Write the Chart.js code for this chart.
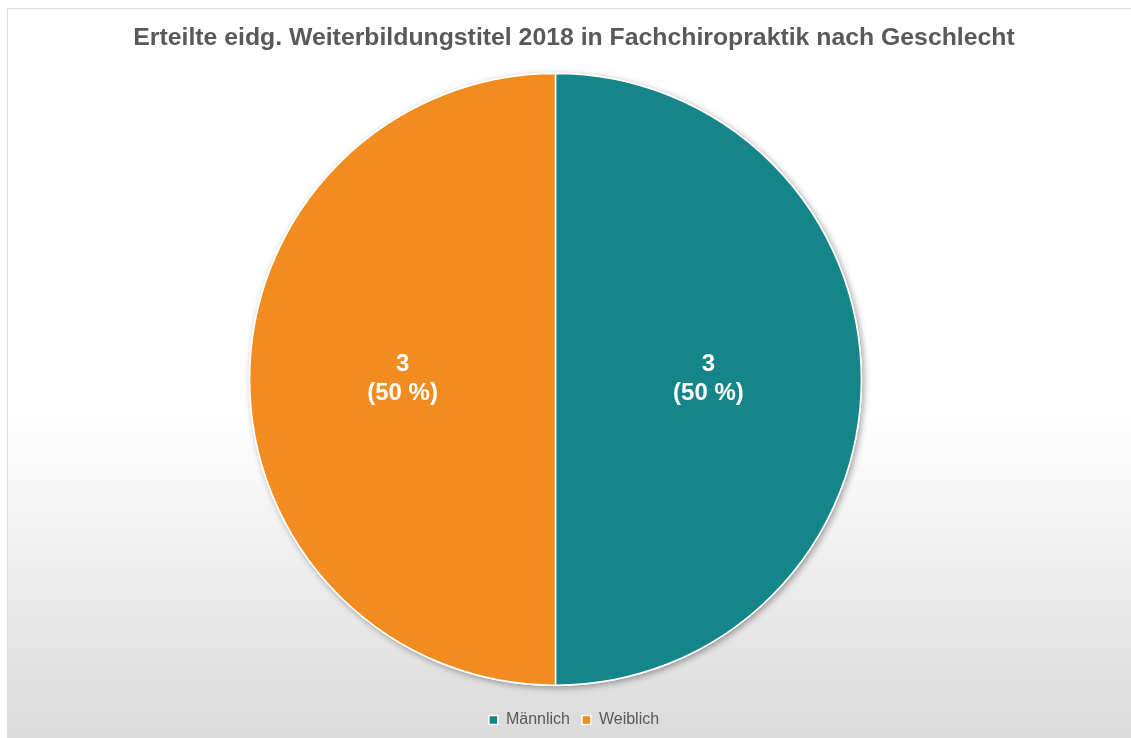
<!DOCTYPE html>
<html>
<head>
<meta charset="utf-8">
<script src="https://cdn.jsdelivr.net/npm/chart.js@4"></script>
<style>
  html, body { margin: 0; padding: 0; background: #fff; overflow: hidden; }
  #frame {
    position: absolute; left: 7px; top: 8px; width: 1140px; height: 740px;
    border: 1px solid #d9d9d9;
    background: linear-gradient(to bottom, #fff 0%, #fff 55%, #d9d9d9 100%);
  }
  #wrap { position: absolute; left: 0px; top: 0px; width: 1132px; height: 729px; }
</style>
</head>
<body>
<div id="frame">
  <div id="wrap"><canvas id="pieCanvas"></canvas></div>
</div>
<script>
// Erteilte Weiterbildungstitel nach Geschlecht
const labels = ["Männlich", "Weiblich"];
const values = [3, 3];
const colors = ["#14868a", "#f28b20"];

const total = values.reduce((a, b) => a + b, 0);
const fontFamily = "'Liberation Sans', Arial, sans-serif";

// Kreis etwas nach links und kleiner (Titel + Legende bleiben zentriert)
const plotShift = {
    id: "plotShift",
    afterLayout(chart) {
        const a = chart.chartArea;
        a.right -= 37;
        a.bottom -= 14;
        a.width = a.right - a.left;
        a.height = a.bottom - a.top;
    },
};

// Schatten hinter dem Kreis
const pieShadow = {
    id: "pieShadow",
    beforeDatasetsDraw(chart) {
        const arc = chart.getDatasetMeta(0).data[0];
        if (!arc) return;
        const ctx = chart.ctx;
        ctx.save();
        ctx.shadowColor = "rgba(0,0,0,0.35)";
        ctx.shadowBlur = 6;
        ctx.shadowOffsetX = 2;
        ctx.shadowOffsetY = 2;
        ctx.fillStyle = "#ffffff";
        ctx.beginPath();
        ctx.arc(arc.x, arc.y, arc.outerRadius + 1, 0, Math.PI * 2);
        ctx.fill();
        ctx.restore();
    },
};

// Beschriftung: Wert und Prozent
const sliceLabels = {
    id: "sliceLabels",
    afterDatasetsDraw(chart) {
        const ctx = chart.ctx;
        const meta = chart.getDatasetMeta(0);
        ctx.save();
        ctx.fillStyle = "#ffffff";
        ctx.font = "bold 24px " + fontFamily;
        ctx.textAlign = "center";
        ctx.textBaseline = "middle";
        meta.data.forEach((arc, i) => {
            const p = arc.tooltipPosition();
            const pct = Math.round(values[i] / total * 100);
            ctx.fillText(String(values[i]), p.x, p.y - 15);
            ctx.fillText("(" + pct + " %)", p.x, p.y + 14);
        });
        ctx.restore();
    },
};

new Chart(document.getElementById("pieCanvas"), {
    type: "pie",
    data: {
        labels: labels,
        datasets: [
            {
                data: values,
                backgroundColor: colors,
                borderColor: "#ffffff",
                borderWidth: 1.5,
            },
        ],
    },
    options: {
        responsive: true,
        maintainAspectRatio: false,
        animation: false,
        layout: { padding: 0 },
        plugins: {
            title: {
                display: true,
                text: "Erteilte eidg. Weiterbildungstitel 2018 in Fachchiropraktik nach Geschlecht",
                color: "#595959",
                font: { family: fontFamily, size: 24.8, weight: "bold" },
                padding: { top: 14, bottom: 20 },
            },
            legend: {
                position: "bottom",
                labels: {
                    color: "#595959",
                    font: { family: fontFamily, size: 16 },
                    boxWidth: 9,
                    boxHeight: 9,
                    padding: 12,
                },
            },
            tooltip: { enabled: false },
        },
    },
    plugins: [plotShift, pieShadow, sliceLabels],
});
</script>
</body>
</html>
